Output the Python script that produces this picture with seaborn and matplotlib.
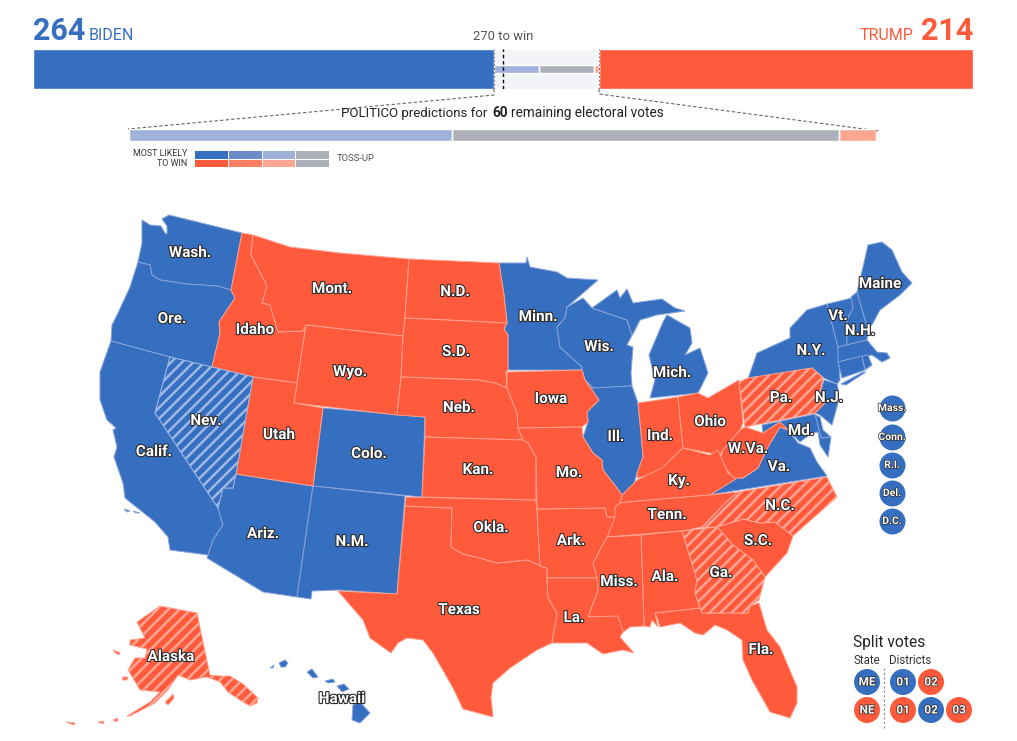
import pandas as pd
import seaborn as sns
import matplotlib.pyplot as plt
import matplotlib.patheffects as pe
from matplotlib.colors import ListedColormap

# --- electoral vote counts ---
TOTAL_EV = 538
BIDEN_EV = 264
TRUMP_EV = 214
REMAINING = ["Lean Biden", "Toss-up", "Lean Trump"]
REMAINING_EV = [26, 31, 3]

BLUE = "#366fbf"
RED = "#ff5a3c"
LIGHT_BLUE = "#a0b1dc"
GRAY = "#adb0b9"
LIGHT_RED = "#ffa693"
PANEL = "#f3f4f7"

# --- state outlines (px) ---
WASH = [(142, 220), (150, 225), (161, 226), (165, 233), (167, 234), (167, 226), (162, 219), (169, 215), (242, 233),
        (231, 290), (217, 286), (187, 284), (160, 280), (152, 275), (150, 265), (138, 262), (142, 243)]
ORE = [(138, 262), (150, 265), (152, 275), (160, 280), (187, 284), (217, 286), (231, 290), (235, 298), (219, 322),
       (220, 333), (212, 367), (170, 357), (111, 341), (112, 325), (118, 313), (130, 287)]
IDAHO = [(242, 233), (253, 235), (251, 255), (267, 286), (262, 303), (270, 305), (278, 332), (303, 331), (306, 325),
         (297, 383), (253, 377), (212, 367), (220, 333), (219, 322), (235, 298), (231, 290)]
MONT = [(253, 235), (290, 247), (340, 253), (409, 259), (405, 318), (403, 336), (306, 325), (303, 331), (278, 332),
        (270, 305), (262, 303), (267, 286), (251, 255)]
WYO = [(306, 325), (403, 336), (401, 377), (397, 415), (294, 403), (297, 383)]
ND = [(409, 259), (499, 263), (504, 295), (507, 323), (405, 318)]
SD = [(405, 318), (507, 323), (504, 329), (508, 335), (508, 370), (506, 372), (507, 388), (495, 383), (478, 380),
      (401, 377), (403, 336)]
NEB = [(401, 377), (478, 380), (495, 383), (507, 388), (517, 413), (518, 428), (523, 440), (425, 437), (425, 417),
       (397, 415)]
COLO = [(323, 408), (425, 417), (422, 497), (313, 486)]
UTAH = [(253, 377), (297, 383), (294, 403), (323, 408), (313, 486), (236, 474)]
NEV = [(170, 357), (212, 367), (253, 377), (236, 474), (233, 488), (223, 488), (218, 508), (155, 413)]
CALIF = [(111, 341), (170, 357), (155, 413), (218, 508), (220, 515), (223, 525), (213, 540), (208, 555), (170, 550),
         (168, 537), (155, 522), (125, 498), (123, 483), (114, 457), (117, 447), (113, 430), (116, 428), (107, 420),
         (100, 400), (100, 372)]
ARIZ = [(236, 474), (313, 486), (297, 597), (263, 592), (207, 558), (208, 555), (213, 540), (223, 525), (220, 515),
        (218, 508), (223, 488), (233, 488)]
NM = [(313, 486), (405, 496), (397, 594), (338, 590), (312, 591), (311, 599), (297, 597)]
TEXAS = [(405, 506), (452, 508), (451, 547), (463, 554), (480, 558), (497, 563), (527, 560), (547, 568), (547, 578),
         (548, 598), (557, 613), (552, 643), (537, 650), (510, 668), (493, 683), (491, 697), (493, 717), (463, 709),
         (453, 688), (433, 653), (423, 640), (407, 638), (398, 643), (391, 653), (370, 638), (363, 620), (338, 591),
         (397, 594)]
OKLA = [(406, 497), (536, 500), (537, 509), (538, 530), (540, 566), (547, 568), (527, 560), (497, 563), (480, 558),
        (463, 554), (451, 547), (452, 508), (405, 506)]
KAN = [(425, 437), (523, 440), (528, 443), (536, 457), (536, 500), (422, 497)]
IOWA = [(507, 372), (582, 370), (585, 380), (599, 400), (587, 412), (588, 422), (582, 427), (518, 428), (517, 413),
        (507, 388)]
MINN = [(499, 263), (526, 263), (527, 257), (530, 267), (557, 272), (567, 278), (598, 280), (567, 307), (565, 318),
        (557, 327), (560, 347), (582, 367), (582, 370), (508, 370), (508, 335), (504, 329), (507, 323), (504, 295)]
WIS = [(567, 307), (583, 298), (592, 308), (627, 320), (632, 335), (640, 320), (627, 345), (633, 347), (631, 373),
       (632, 386), (593, 388), (585, 380), (582, 370), (582, 367), (560, 347), (557, 327), (565, 318)]
MICH_UP = [(592, 308), (617, 290), (620, 298), (627, 289), (633, 303), (662, 299), (675, 308), (685, 311), (657, 315),
           (640, 320), (632, 335), (627, 320)]
MICH_LP = [(667, 315), (690, 328), (692, 343), (685, 355), (700, 348), (708, 373), (698, 393), (650, 398), (655, 380),
           (649, 355), (663, 322)]
ILL = [(593, 388), (632, 386), (638, 403), (641, 433), (643, 457), (637, 473), (632, 492), (622, 495), (617, 488),
       (603, 470), (602, 460), (593, 453), (583, 437), (588, 422), (587, 412), (599, 400), (585, 380)]
IND = [(638, 403), (678, 397), (683, 448), (673, 458), (663, 472), (637, 478), (637, 473), (643, 457), (641, 433)]
OHIO = [(678, 397), (698, 393), (708, 398), (739, 380), (743, 423), (740, 430), (723, 450), (718, 458), (710, 453),
        (683, 448)]
PENN = [(739, 382), (748, 378), (812, 368), (823, 378), (820, 393), (825, 403), (815, 413), (745, 427)]
NY = [(748, 379), (757, 353), (790, 338), (790, 328), (807, 310), (827, 304), (838, 347), (840, 380), (837, 384),
      (824, 378), (812, 368)]
LONG_ISLAND = [(841, 384), (863, 372), (866, 372), (846, 385)]
VT = [(827, 304), (852, 298), (853, 308), (847, 320), (847, 345), (838, 347)]
NH = [(851, 297), (857, 292), (868, 330), (867, 340), (847, 345), (847, 320), (853, 308)]
MAINE = [(857, 292), (863, 267), (868, 245), (882, 242), (892, 250), (902, 272), (912, 283), (900, 295), (880, 310),
         (873, 323), (868, 330)]
MASS = [(838, 347), (867, 340), (877, 352), (887, 353), (890, 358), (882, 362), (872, 355), (838, 362)]
CONN = [(838, 362), (862, 356), (865, 370), (842, 378)]
RI = [(862, 356), (868, 355), (872, 365), (865, 370)]
NJ = [(824, 380), (837, 384), (838, 388), (838, 403), (832, 425), (820, 415), (815, 413), (825, 403), (820, 393)]
DEL = [(815, 415), (820, 417), (823, 430), (831, 437), (821, 438)]
MD = [(762, 425), (815, 414), (821, 438), (831, 437), (828, 457), (820, 445), (818, 432), (812, 433), (800, 442),
      (788, 430), (780, 422), (763, 433)]
VA = [(708, 495), (733, 478), (743, 478), (758, 468), (768, 447), (780, 427), (788, 430), (798, 443), (810, 448),
      (817, 462), (827, 476)]
WVA = [(745, 427), (763, 433), (780, 422), (788, 430), (780, 427), (768, 447), (758, 468), (743, 478), (733, 478),
       (720, 460), (723, 450), (740, 430)]
KY = [(620, 503), (622, 495), (637, 480), (662, 468), (683, 448), (710, 455), (718, 450), (728, 473), (736, 479),
      (710, 495), (638, 501)]
TENN = [(615, 507), (620, 503), (638, 501), (710, 495), (738, 492), (725, 503), (702, 527), (682, 531), (607, 537),
        (613, 518)]
NC = [(738, 492), (827, 477), (837, 497), (820, 512), (803, 527), (793, 536), (775, 522), (760, 523), (743, 519),
      (717, 527), (702, 528), (725, 503)]
SC = [(717, 527), (743, 519), (760, 523), (775, 522), (793, 536), (787, 553), (765, 577), (753, 560), (733, 545)]
GA = [(682, 531), (717, 527), (733, 545), (753, 560), (765, 577), (759, 600), (750, 606), (748, 613), (702, 613),
      (695, 593), (697, 580)]
FLA = [(655, 613), (700, 608), (702, 613), (748, 613), (750, 606), (759, 603), (767, 630), (780, 647), (797, 687),
       (797, 703), (790, 718), (770, 712), (752, 680), (743, 660), (742, 640), (727, 630), (715, 625), (703, 635),
       (695, 633), (680, 623), (660, 627), (658, 620)]
ALA = [(641, 535), (682, 531), (697, 580), (695, 593), (700, 608), (655, 613), (658, 627), (652, 620), (650, 627),
       (644, 626)]
MISS = [(607, 537), (641, 535), (644, 626), (630, 627), (622, 633), (618, 617), (588, 617), (598, 590), (593, 563),
        (608, 535)]
ARK = [(537, 509), (605, 508), (607, 517), (615, 517), (608, 535), (593, 563), (597, 578), (547, 578), (547, 568),
       (540, 566), (538, 530)]
MO = [(518, 428), (582, 427), (583, 437), (593, 453), (602, 460), (603, 470), (617, 488), (622, 495), (620, 503),
      (615, 507), (615, 517), (607, 517), (605, 508), (537, 509), (536, 457), (528, 443), (523, 440)]
LA = [(547, 578), (597, 578), (598, 590), (588, 617), (618, 616), (623, 632), (620, 637), (625, 643), (634, 653),
      (623, 650), (603, 654), (587, 643), (552, 643), (557, 613), (548, 598)]
ALASKA = [(137, 622), (160, 606), (197, 613), (210, 675), (220, 676), (230, 676), (243, 684), (258, 698), (257, 703),
          (250, 706), (240, 700), (228, 692), (220, 682), (207, 677), (190, 680), (178, 675), (168, 690), (155, 703),
          (130, 716), (127, 716), (150, 702), (160, 692), (140, 690), (128, 670), (135, 658), (145, 658), (147, 649),
          (130, 645), (130, 640), (145, 638)]
KODIAK = [(165, 702), (173, 694), (174, 698), (168, 705)]
NUNIVAK = [(122, 677), (128, 677), (127, 680), (123, 680)]
ST_LAWRENCE = [(113, 650), (119, 652), (120, 655), (115, 653)]
ALEUT_A = [(113, 720), (118, 718), (117, 722)]
ALEUT_B = [(98, 722), (104, 721), (103, 724)]
ALEUT_C = [(66, 722), (75, 723), (74, 725)]
KAUAI = [(279, 663), (285, 660), (288, 663), (285, 667), (281, 667)]
NIIHAU = [(270, 668), (274, 665), (273, 668)]
OAHU = [(307, 672), (312, 669), (318, 677), (313, 678)]
MOLOKAI = [(325, 681), (333, 679), (335, 682), (328, 683)]
MAUI = [(337, 686), (344, 684), (349, 689), (342, 692)]
BIG_ISLAND = [(353, 705), (360, 702), (370, 713), (360, 723), (352, 720)]
CHANNEL_A = [(124, 509), (130, 511), (127, 512)]
CHANNEL_B = [(133, 511), (140, 513), (136, 513)]

BIDEN_STATES = [WASH, ORE, CALIF, COLO, ARIZ, NM, MINN, WIS, MICH_UP, MICH_LP, ILL, NY, LONG_ISLAND, VT, NH, MAINE,
                MASS, CONN, RI, NJ, DEL, MD, VA, KAUAI, NIIHAU, OAHU, MOLOKAI, MAUI, BIG_ISLAND, CHANNEL_A, CHANNEL_B]
TRUMP_STATES = [IDAHO, MONT, WYO, ND, SD, NEB, UTAH, TEXAS, OKLA, KAN, IOWA, IND, OHIO, WVA, KY, TENN, SC, FLA, ALA,
                MISS, ARK, MO, LA]
HATCHED_BLUE = [NEV]
HATCHED_RED = [PENN, NC, GA, ALASKA, KODIAK, NUNIVAK, ST_LAWRENCE, ALEUT_A, ALEUT_B, ALEUT_C]

STATE_LABELS = ["Wash.", "Mont.", "N.D.", "Minn.", "Maine", "Vt.", "N.H.", "Ore.", "Idaho", "Wyo.", "S.D.", "Wis.",
                "Mich.", "N.Y.", "Pa.", "N.J.", "Md.", "Nev.", "Utah", "Colo.", "Neb.", "Iowa", "Ill.", "Ind.", "Ohio",
                "W.Va.", "Va.", "Calif.", "Kan.", "Mo.", "Ky.", "Tenn.", "N.C.", "S.C.", "Ark.", "Okla.", "Ariz.",
                "N.M.", "Texas", "La.", "Miss.", "Ala.", "Ga.", "Fla.", "Alaska", "Hawaii"]
LABEL_X = [190, 332, 455, 538, 880, 838, 860, 172, 255, 350, 456, 599, 672, 811, 781, 829, 801, 206, 279, 369, 459, 551,
           616, 660, 710, 748, 779, 154, 478, 569, 679, 667, 780, 758, 571, 491, 263, 352, 459, 574, 619, 665, 721, 761,
           171, 342]
LABEL_Y = [253, 289, 292, 317, 284, 316, 331, 319, 330, 372, 352, 347, 373, 351, 398, 398, 431, 421, 435, 454, 408, 399,
           437, 436, 422, 449, 467, 452, 470, 473, 481, 515, 506, 541, 541, 528, 534, 542, 610, 618, 582, 577, 573, 650,
           657, 699]

SMALL_STATES = ["Mass.", "Conn.", "R.I.", "Del.", "D.C."]
SMALL_Y = [408, 437, 465, 493, 521]

SPLIT_LABELS = ["ME", "01", "02", "NE", "01", "02", "03"]
SPLIT_X = [867, 903, 931, 867, 903, 931, 959]
SPLIT_Y = [682, 682, 682, 710, 710, 710, 710]
SPLIT_WINNER = ["D", "D", "R", "R", "R", "D", "R"]

LEGEND_CELLS = [[0, 1, 2, 3], [4, 5, 6, 3]]
LEGEND_COLORS = [BLUE, "#6b8cc9", LIGHT_BLUE, GRAY, RED, "#ff7f65", LIGHT_RED]

W, H = 1017, 741
sns.set_theme(style="white")
plt.rcParams["font.family"] = ["Roboto", "DejaVu Sans"]
plt.rcParams["hatch.linewidth"] = 1.8

fig = plt.figure(figsize=(W / 100, H / 100), dpi=100)
ax = fig.add_axes([0, 0, 1, 1])
ax.set_xlim(0, W)
ax.set_ylim(H, 0)
ax.axis("off")


def px_axes(x0, y0, x1, y1):
    a = fig.add_axes([x0 / W, 1 - y1 / H, (x1 - x0) / W, (y1 - y0) / H])
    a.patch.set_alpha(0)
    return a


def stacked_bar(a, rows, xmax):
    # longest first, each shorter bar covers the previous one
    for value, color, width in rows:
        sns.barplot(x=[value], y=[0], orient="h", color=color, saturation=1, width=width, ax=a)
    a.set_xlim(0, xmax)
    a.set_ylim(-0.5, 0.5)
    a.axis("off")


# --- tally bar ---
ax_bar = px_axes(32.5, 48.5, 973, 89)
decided = TOTAL_EV - TRUMP_EV
stacked_bar(ax_bar, [(TOTAL_EV, RED, 1), (decided, PANEL, 1),
                     (decided, LIGHT_RED, 0.2),
                     (BIDEN_EV + sum(REMAINING_EV[:2]), GRAY, 0.2),
                     (BIDEN_EV + REMAINING_EV[0], LIGHT_BLUE, 0.2),
                     (BIDEN_EV, BLUE, 1)], TOTAL_EV)
ax_bar.vlines([BIDEN_EV + REMAINING_EV[0], BIDEN_EV + sum(REMAINING_EV[:2])], -0.1, 0.1, color="white", lw=1)
ax_bar.vlines(270 - 1, -0.5, 0.5, color="black", lw=1, linestyles=(0, (2.5, 2)))
ax_bar.vlines([BIDEN_EV, decided], -0.5, 0.5, color="#777777", lw=0.7, linestyles=(0, (2, 2)))

# --- predictions bar ---
ax_pred = px_axes(128.5, 128.5, 876, 141)
stacked_bar(ax_pred, [(sum(REMAINING_EV), LIGHT_RED, 1), (sum(REMAINING_EV[:2]), GRAY, 1),
                      (REMAINING_EV[0], LIGHT_BLUE, 1)], sum(REMAINING_EV))
ax_pred.vlines([REMAINING_EV[0], sum(REMAINING_EV[:2])], -0.5, 0.5, color="white", lw=1)

ax.plot([494, 494, 128], [89, 95, 129], color="#666666", lw=0.8, ls=(0, (3, 2)))
ax.plot([599, 599, 879], [89, 94, 131], color="#666666", lw=0.8, ls=(0, (3, 2)))

# --- legend heatmap ---
ax_leg = px_axes(194, 150, 329, 167)
sns.heatmap(LEGEND_CELLS, cmap=ListedColormap(LEGEND_COLORS), vmin=-0.5, vmax=6.5, cbar=False, linewidths=0.5,
            linecolor="white", xticklabels=False, yticklabels=False, ax=ax_leg)
ax.text(187, 154, "MOST LIKELY", ha="right", va="center", fontsize=6.4, color="#333333")
ax.text(187, 163, "TO WIN", ha="right", va="center", fontsize=6.4, color="#333333")
ax.text(337, 158.5, "TOSS-UP", ha="left", va="center", fontsize=6.8, color="#555555")

# --- header text ---
ax.text(33, 31, str(BIDEN_EV), color=BLUE, fontsize=22, fontweight="bold", va="center")
ax.text(89, 36, "BIDEN", color=BLUE, fontsize=11.5, va="center")
ax.text(973, 31, str(TRUMP_EV), color=RED, fontsize=22, fontweight="bold", va="center", ha="right")
ax.text(913, 36, "TRUMP", color=RED, fontsize=11.5, va="center", ha="right")
ax.text(503, 36, "270 to win", color="#555555", fontsize=9.4, va="center", ha="center")
ax.text(341, 113, "POLITICO predictions for", color="#222222", fontsize=9.5, va="center")
ax.text(492, 113, "60", color="#222222", fontsize=9.8, fontweight="bold", va="center")
ax.text(511, 113, "remaining electoral votes", color="#222222", fontsize=9.8, va="center")

# --- map ---
for outline in BIDEN_STATES:
    xs, ys = zip(*outline)
    ax.fill(xs, ys, facecolor=BLUE, edgecolor="#86a3dc", lw=0.7)
for outline in TRUMP_STATES:
    xs, ys = zip(*outline)
    ax.fill(xs, ys, facecolor=RED, edgecolor="#ffa08c", lw=0.7)
for outline in HATCHED_BLUE:
    xs, ys = zip(*outline)
    ax.fill(xs, ys, facecolor=BLUE, edgecolor="#9db8e6", hatch="///", lw=0.7)
for outline in HATCHED_RED:
    xs, ys = zip(*outline)
    ax.fill(xs, ys, facecolor=RED, edgecolor="#ffa593", hatch="///", lw=0.7)

outline_fx = [pe.withStroke(linewidth=1.6, foreground="#2b2b2b")]
for name, x, y in zip(STATE_LABELS, LABEL_X, LABEL_Y):
    ax.text(x, y, name, color="white", fontsize=11, fontweight="bold", ha="center", va="center", path_effects=outline_fx,
            zorder=6)

# --- small state bubbles ---
small = pd.DataFrame({"x": [892] * len(SMALL_Y), "y": SMALL_Y})
sns.scatterplot(data=small, x="x", y="y", s=350, color=BLUE, linewidth=0, legend=False, ax=ax, zorder=5)
for name, y in zip(SMALL_STATES, SMALL_Y):
    ax.text(892, y, name, color="white", fontsize=7.5, fontweight="bold", ha="center", va="center",
            path_effects=[pe.withStroke(linewidth=1, foreground="#2b2b2b")], zorder=6)

# --- split votes ---
split = pd.DataFrame({"x": SPLIT_X, "y": SPLIT_Y, "winner": SPLIT_WINNER})
sns.scatterplot(data=split, x="x", y="y", hue="winner", palette={"D": BLUE, "R": RED}, s=350, linewidth=0, legend=False,
                ax=ax, zorder=5)
for label, x, y in zip(SPLIT_LABELS, SPLIT_X, SPLIT_Y):
    ax.text(x, y, label, color="white", fontsize=8.5, fontweight="bold", ha="center", va="center",
            path_effects=[pe.withStroke(linewidth=1, foreground="#2b2b2b")], zorder=6)
ax.plot([884, 884], [668, 730], color="#888888", lw=0.8, ls=(0, (2, 2)))
ax.text(853, 643, "Split votes", color="#222222", fontsize=11.2, va="center")
ax.text(853, 660, "State", color="#333333", fontsize=8.3, va="center")
ax.text(889, 660, "Districts", color="#333333", fontsize=8.3, va="center")

ax.set_xlim(0, W)
ax.set_ylim(H, 0)
ax.set_xlabel("")
ax.set_ylabel("")

fig.savefig("out.png", dpi=100)
